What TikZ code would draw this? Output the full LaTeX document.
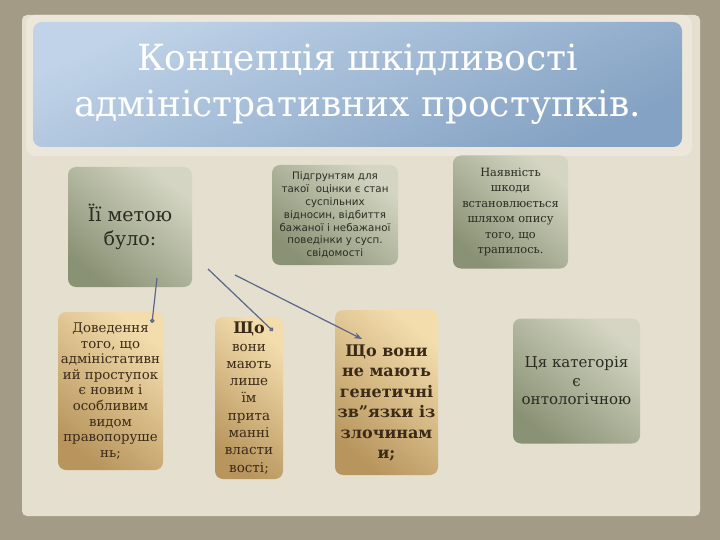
\documentclass[tikz,border=0pt]{standalone}
\usepackage{fontspec}
\setmainfont{DejaVu Serif}
\newfontfamily\sansf{DejaVu Sans}
\usetikzlibrary{arrows.meta}
\definecolor{frameC}{HTML}{A49B87}
\definecolor{panelC}{HTML}{E5DFD0}
\definecolor{bandC}{HTML}{ECE7DA}
\definecolor{blueL}{HTML}{C0D3E8}
\definecolor{blueD}{HTML}{84A2C3}
\definecolor{grnD}{HTML}{8A9275}
\definecolor{grnL}{HTML}{D4D6C3}
\definecolor{goldD}{HTML}{B8955D}
\definecolor{goldL}{HTML}{F3DDAD}
\definecolor{grnText}{HTML}{2B2B22}
\definecolor{goldText}{HTML}{3A2A18}
\definecolor{lineC}{HTML}{5C6688}
\tikzset{
  titlebox/.style={rounded corners=9pt, left color=blueL, right color=blueD, shading angle=25,
    inner sep=0pt, align=center, text=white},
  greenbox/.style={rounded corners=8pt, left color=grnL, right color=grnD, shading angle=-40,
    inner sep=0pt, align=center, text=grnText},
  goldbox/.style={rounded corners=8pt, left color=goldL, right color=goldD, shading angle=-40,
    inner sep=0pt, align=center, text=goldText},
  boxtext/.style={inner sep=0pt, align=center},
  link/.style={draw=lineC, line width=1.2pt},
}
\begin{document}
\begin{tikzpicture}[x=1pt,y=-1pt]
\useasboundingbox (0,0) rectangle (720,540);
\fill[frameC] (0,0) rectangle (720,540);
\fill[panelC, rounded corners=5pt] (22,15) rectangle (700,516);
\fill[bandC, rounded corners=9pt] (26,15) rectangle (692,156);

\node[titlebox, minimum width=649pt, minimum height=125pt,
  font={\fontsize{36}{46}\selectfont}] (title) at (357.5,84.5)
  {Концепція шкідливості\\ адміністративних проступків.};

\node[greenbox, minimum width=124pt, minimum height=120pt,
  font={\fontsize{19}{24}\selectfont}] (b1) at (130,227)
  {Її метою\\ було:};
\node[greenbox, minimum width=126pt, minimum height=100pt,
  font={\sansf\fontsize{10.3}{12.8}\selectfont}] (b2) at (335,215)
  {Підгрунтям для\\ такої \ оцінки є стан\\ суспільних\\ відносин, відбиття\\ бажаної і небажаної\\ поведінки у сусп.\\ свідомості};
\node[greenbox, minimum width=115pt, minimum height=113pt,
  font={\fontsize{11.4}{15.4}\selectfont}] (b3) at (510.5,212)
  {Наявність\\ шкоди\\ встановлюється\\ шляхом опису\\ того, що\\ трапилось.};

\node[goldbox, minimum width=105pt, minimum height=158pt,
  font={\fontsize{13.3}{15.6}\selectfont}] (b4) at (110.5,391)
  {Доведення\\ того, що\\ адміністативн\\ ий проступок\\ є новим і\\ особливим\\ видом\\ правопоруше\\ нь;};
\node[goldbox, minimum width=68pt, minimum height=162pt,
  font={\fontsize{13.5}{17.3}\selectfont}] (b5) at (249,398)
  {{\fontsize{16}{17.3}\selectfont\bfseries Що}\\ вони\\ мають\\ лише\\ їм\\ прита\\ манні\\ власти\\ вості;};
\node[goldbox, minimum width=103pt, minimum height=165pt] (b6) at (386.5,392.5) {};
\node[boxtext, text=goldText, font={\fontsize{16}{20.5}\selectfont\bfseries}] (b6t) at (386.5,403)
  {Що вони\\ не мають\\ генетичні\\ зв"язки із\\ злочинам\\ и;};
\node[greenbox, minimum width=127pt, minimum height=125pt,
  font={\fontsize{15}{18.5}\selectfont}] (b7) at (576.5,381)
  {Ця категорія\\ є\\ онтологічною};

\coordinate (s1) at (157,278);
\coordinate (e1) at (152,323);
\coordinate (s2) at (208,269);
\coordinate (e2) at (273,331);
\coordinate (s3) at (235,275);
\coordinate (e3) at (362,339);
\draw[link, -{Circle[length=4.5pt, fill=grnD]}] (s1) -- (e1);
\draw[link, -{Circle[length=4.5pt, fill=grnD]}] (s2) -- (e2);
\draw[link, -{Stealth[length=8pt, width=6pt]}] (s3) -- (e3);
\end{tikzpicture}
\end{document}
